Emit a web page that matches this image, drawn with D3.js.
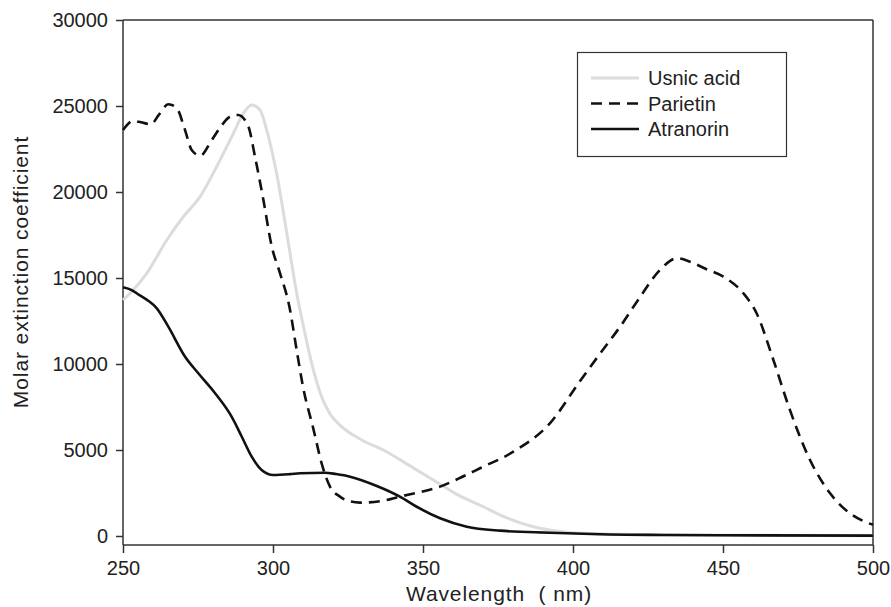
<!DOCTYPE html>
<html>
<head>
<meta charset="utf-8">
<script src="https://cdn.jsdelivr.net/npm/d3@7"></script>
<style>
  body { margin: 0; background: #fff; }
  text { font-family: "Liberation Sans", Arial, sans-serif; fill: #222; }
</style>
</head>
<body>
<script>
// Werte: [Wellenlaenge nm, Extinktionskoeffizient]
const usnicAcid = [
  [250, 13720], [253.4, 14300], [257.9, 15270], [264.6, 17210], [270.1, 18560],
  [275.7, 19730], [281.2, 21470], [286.8, 23410], [290.1, 24570], [292.9, 25060],
  [295.7, 24770], [297.9, 23600], [301.2, 21090], [304.6, 17600], [307.9, 14110],
  [310.5, 11900], [312.9, 10040], [316.2, 8100], [319, 7100], [322.3, 6450],
  [329.6, 5580], [336.8, 5000], [345, 4150], [353.4, 3260], [361, 2450],
  [370.1, 1700], [378, 1050], [386.8, 540], [395, 280], [403.4, 160],
  [420, 90], [450, 50], [500, 20]
];
const parietin = [
  [250, 23600], [253.4, 24130], [256, 24050], [259.3, 23940], [262, 24500],
  [265.1, 25100], [267.9, 24880], [270.5, 23700], [272.9, 22440], [275.7, 22110],
  [279.6, 23020], [283, 23900], [285.7, 24380], [288.4, 24480], [291.8, 23800],
  [294, 22050], [296.8, 19530], [299.6, 16820], [302.3, 15300], [305.5, 13300],
  [307.9, 10800], [310, 8680], [313.5, 6200], [316.2, 4230], [319, 2870],
  [322.3, 2290], [326, 2000], [329, 1940], [336.8, 2050], [342.3, 2290],
  [349, 2550], [355.7, 2870], [362, 3350], [369, 3940], [380.1, 4900],
  [392.3, 6550], [402.3, 9000], [409, 10600], [415.7, 12170], [422, 13800],
  [429, 15470], [434.6, 16150], [439, 15950], [444, 15550], [450.1, 15080],
  [456.8, 14110], [461.2, 12950], [466.8, 10230], [472.3, 7330], [479, 4420],
  [485.7, 2480], [492.3, 1320], [497, 850], [500, 650]
];
const atranorin = [
  [250, 14460], [252.9, 14300], [255.5, 14000], [258.4, 13680], [261.2, 13250],
  [265.1, 12170], [270.7, 10420], [275.1, 9460], [280.7, 8300], [286.2, 6940],
  [289.6, 5770], [292.9, 4610], [296.2, 3840], [300.1, 3550], [305.7, 3600],
  [309, 3650], [317.3, 3680], [321, 3600], [325.7, 3450], [334.6, 2910],
  [342.3, 2290], [347.9, 1700], [355.7, 1030], [364.6, 540], [375.7, 310],
  [392.3, 190], [409, 100], [430, 60], [450, 40], [500, 20]
];
const seriesNames = ["Usnic acid", "Parietin", "Atranorin"];
const xTicks = [250, 300, 350, 400, 450, 500];
const yTicks = [0, 5000, 10000, 15000, 20000, 25000, 30000];

const series = [
  { name: seriesNames[0], data: usnicAcid, color: "#dcdcdc", width: 3, dash: null },
  { name: seriesNames[1], data: parietin, color: "#111", width: 2.6, dash: "11,7" },
  { name: seriesNames[2], data: atranorin, color: "#111", width: 2.6, dash: null }
];

const W = 891, H = 607;
const plotLeft = 123, plotRight = 873, plotTop = 20, axisY = 545;

const svg = d3.select("body").append("svg")
    .attr("width", W)
    .attr("height", H);

// Skalen
const x = d3.scaleLinear().domain([250, 500]).range([plotLeft, plotRight]);
const y = d3.scaleLinear().domain([0, 30000]).range([536, plotTop]);

// Rahmen
const frame = svg.append("g").attr("stroke", "#333").attr("stroke-width", 1.5);
frame.append("line").attr("x1", plotLeft).attr("x2", plotLeft).attr("y1", plotTop).attr("y2", axisY);
frame.append("line").attr("x1", plotLeft).attr("x2", plotRight).attr("y1", axisY).attr("y2", axisY);
frame.append("line").attr("x1", plotLeft).attr("x2", plotRight).attr("y1", plotTop).attr("y2", plotTop);
frame.append("line").attr("x1", plotRight).attr("x2", plotRight).attr("y1", plotTop).attr("y2", axisY);

// X-Achse
svg.append("g")
    .attr("transform", `translate(0,${axisY})`)
    .call(d3.axisBottom(x).tickValues(xTicks).tickSize(8).tickPadding(8))
    .call(g => g.select(".domain").remove())
    .call(g => g.selectAll("line").attr("stroke", "#333").attr("stroke-width", 1.5))
    .call(g => g.selectAll("text").style("font-size", "20px").attr("fill", "#222"));

// Y-Achse
svg.append("g")
    .attr("transform", `translate(${plotLeft},0)`)
    .call(d3.axisLeft(y).tickValues(yTicks).tickFormat(d3.format("d")).tickSize(7).tickPadding(8))
    .call(g => g.select(".domain").remove())
    .call(g => g.selectAll("line").attr("stroke", "#333").attr("stroke-width", 1.5))
    .call(g => g.selectAll("text").style("font-size", "20px").attr("fill", "#222"));

// Achsentitel
svg.append("text")
    .attr("x", 499)
    .attr("y", 601)
    .attr("text-anchor", "middle")
    .style("font-size", "21px")
    .style("letter-spacing", "0.9px")
    .style("white-space", "pre")
    .text("Wavelength  ( nm)");

svg.append("text")
    .attr("transform", "translate(28,272) rotate(-90)")
    .attr("text-anchor", "middle")
    .style("font-size", "21px")
    .style("letter-spacing", "0.9px")
    .text("Molar extinction coefficient");

// Kurven
const line = d3.line()
    .x(d => x(d[0]))
    .y(d => y(d[1]))
    .curve(d3.curveMonotoneX);

svg.append("g").selectAll("path")
    .data(series)
    .join("path")
    .attr("d", d => line(d.data))
    .attr("fill", "none")
    .attr("stroke", d => d.color)
    .attr("stroke-width", d => d.width)
    .attr("stroke-dasharray", d => d.dash)
    .attr("stroke-linejoin", "round");

// Legende
const legend = svg.append("g");
legend.append("rect")
    .attr("x", 577.5).attr("y", 52.5)
    .attr("width", 209).attr("height", 104)
    .attr("fill", "#fff")
    .attr("stroke", "#333")
    .attr("stroke-width", 1.2);

const rows = legend.selectAll("g.row")
    .data(series)
    .join("g")
    .attr("class", "row")
    .attr("transform", (d, i) => `translate(0,${78 + i * 25.5})`);

rows.append("line")
    .attr("x1", 591).attr("x2", 639)
    .attr("stroke", d => d.color)
    .attr("stroke-width", d => d.width)
    .attr("stroke-dasharray", d => d.dash ? "11,7" : null);

rows.append("text")
    .attr("x", 648)
    .attr("dy", "0.35em")
    .style("font-size", "20px")
    .text(d => d.name);
</script>
</body>
</html>
